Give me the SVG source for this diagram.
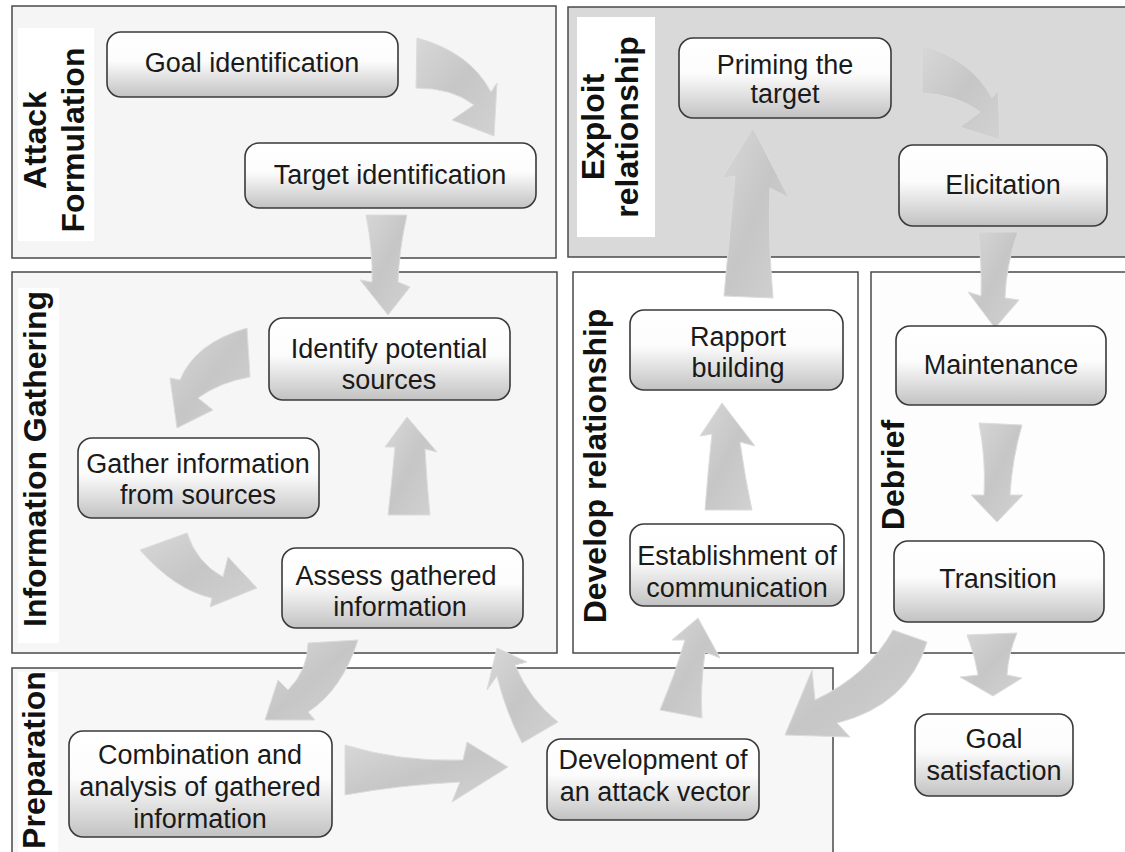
<svg xmlns="http://www.w3.org/2000/svg" width="1125" height="852" viewBox="0 0 1125 852">
<defs>
<linearGradient id="ng" x1="0" y1="0" x2="0" y2="1">
<stop offset="0" stop-color="#ffffff"/>
<stop offset="0.45" stop-color="#fcfcfc"/>
<stop offset="1" stop-color="#c2c2c2"/>
</linearGradient>
<linearGradient id="ag" x1="0" y1="0" x2="1" y2="1">
<stop offset="0" stop-color="#d8d8d8"/>
<stop offset="0.5" stop-color="#c6c6c6"/>
<stop offset="1" stop-color="#d2d2d2"/>
</linearGradient>
</defs>
<style>
.panel{stroke:#4a4a4a;stroke-width:1.5}
.lbg{fill:#ffffff}
.lbl{font-family:"Liberation Sans",Arial,sans-serif;font-weight:bold;font-size:32px;fill:#111;text-anchor:middle}
.node rect{fill:url(#ng);stroke:#3a3a3a;stroke-width:1.6}
.node text{font-family:"Liberation Sans",Arial,sans-serif;font-size:27px;fill:#1a1a1a;text-anchor:middle}
.arr path{fill:url(#ag);stroke:#dcdcdc;stroke-width:1;stroke-linejoin:round}
</style>
<rect width="1125" height="852" fill="#ffffff"/>
<g id="panels">
<rect id="p-attack" class="panel" x="12" y="6" width="544" height="252" fill="#f5f5f5"/>
<rect id="p-exploit" class="panel" x="568" y="7" width="570" height="250" fill="#d9d9d9"/>
<rect id="p-info" class="panel" x="12" y="272" width="545" height="381" fill="#f6f6f6"/>
<rect id="p-develop" class="panel" x="573" y="272" width="285" height="381" fill="#ffffff"/>
<rect id="p-debrief" class="panel" x="871" y="272" width="270" height="381" fill="#fdfdfd"/>
<rect id="p-prep" class="panel" x="12" y="668" width="821" height="200" fill="#f7f7f7"/>
</g>
<g id="labels">
<rect class="lbg" x="18" y="28" width="76" height="213"/>
<text class="lbl" transform="translate(46,140) rotate(-90)">Attack</text>
<text class="lbl" transform="translate(84,140) rotate(-90)">Formulation</text>
<rect class="lbg" x="577" y="17" width="78" height="220"/>
<text class="lbl" transform="translate(604,127) rotate(-90)">Exploit</text>
<text class="lbl" transform="translate(638,127) rotate(-90)">relationship</text>
<rect class="lbg" x="18" y="288" width="41" height="355"/>
<text class="lbl" transform="translate(46,459) rotate(-90)">Information Gathering</text>
<text class="lbl" transform="translate(606,466) rotate(-90)">Develop relationship</text>
<text class="lbl" transform="translate(904,475) rotate(-90)">Debrief</text>
<rect class="lbg" x="18" y="672" width="40" height="180"/>
<text class="lbl" transform="translate(45,760) rotate(-90)">Preparation</text>
</g>
<g id="connectors" class="arr">
<path d="M417,38 Q470,52 491,92 L497,83 L494,136 L452,120 L474,105 Q452,88 416,88 Z"/>
<path d="M366,215 L407,215 Q399,250 398,282 L410,287 L388,315 L360,280 L372,282 Q373,250 366,215 Z"/>
<path d="M247,328 Q195,343 180,380 L170,378 L177,428 L213,410 L198,398 Q220,382 250,377 Z"/>
<path d="M187,533 Q197,563 223,577 L228,557 L257,588 L210,607 L212,598 Q175,590 140,550 Z"/>
<path d="M388,515 Q392,480 395,447 L385,447 L407,417 L437,452 L425,449 Q427,485 430,515 Z"/>
<path d="M308,643 Q308,670 288,690 L278,680 L265,720 L315,720 L308,712 Q342,690 358,640 Z"/>
<path d="M345,745 Q400,762 463,760 L467,742 L508,767 L452,802 L460,782 Q400,785 345,795 Z"/>
<path d="M522,743 Q505,710 497,676 L487,690 L497,648 L527,662 L515,665 Q530,700 558,722 Z"/>
<path d="M660,710 Q675,675 685,640 L672,640 L698,618 L720,658 L705,652 Q700,690 702,718 Z"/>
<path d="M705,510 Q708,470 712,434 L700,436 L722,403 L755,446 L740,442 Q745,478 752,510 Z"/>
<path d="M724,296 Q730,230 735,176 L722,178 L753,128 L789,198 L770,188 Q768,240 773,298 Z"/>
<path d="M922,45 Q972,60 992,98 L998,90 L1000,140 L960,127 L980,112 Q958,95 922,93 Z"/>
<path d="M978,232 L1018,232 Q1006,265 1005,298 L1019,300 L995,328 L968,292 L981,296 Q982,262 978,232 Z"/>
<path d="M979,423 L1022,425 Q1012,460 1010,495 L1023,495 L997,522 L971,495 L984,495 Q986,458 979,423 Z"/>
<path d="M893,630 L927,642 Q908,705 837,723 L850,737 L785,735 L812,670 L815,700 Q868,675 893,630 Z"/>
<path d="M967,635 L1017,633 Q1008,655 1007,675 L1022,678 L993,696 L960,677 L978,675 Q975,655 967,635 Z"/>
</g>
<g id="n-goal" class="node"><rect x="107" y="32" width="291" height="65" rx="14"/><text x="252" y="72">Goal identification</text></g>
<g id="n-target" class="node"><rect x="245" y="143" width="291" height="65" rx="14"/><text x="390" y="184">Target identification</text></g>
<g id="n-priming" class="node"><rect x="679" y="38" width="212" height="80" rx="14"/><text x="785" y="74">Priming the</text><text x="785" y="103">target</text></g>
<g id="n-elicit" class="node"><rect x="899" y="145" width="208" height="81" rx="14"/><text x="1003" y="194">Elicitation</text></g>
<g id="n-identify" class="node"><rect x="269" y="318" width="241" height="82" rx="14"/><text x="389" y="358">Identify potential</text><text x="389" y="389">sources</text></g>
<g id="n-gather" class="node"><rect x="78" y="438" width="241" height="80" rx="14"/><text x="198" y="473">Gather information</text><text x="198" y="504">from sources</text></g>
<g id="n-assess" class="node"><rect x="282" y="548" width="241" height="80" rx="14"/><text x="396" y="585">Assess gathered</text><text x="400" y="616">information</text></g>
<g id="n-rapport" class="node"><rect x="630" y="310" width="213" height="80" rx="14"/><text x="738" y="346">Rapport</text><text x="738" y="377">building</text></g>
<g id="n-establish" class="node"><rect x="630" y="524" width="214" height="82" rx="14"/><text x="737" y="565">Establishment of</text><text x="737" y="597">communication</text></g>
<g id="n-maint" class="node"><rect x="896" y="326" width="210" height="79" rx="14"/><text x="1001" y="374">Maintenance</text></g>
<g id="n-trans" class="node"><rect x="894" y="541" width="210" height="81" rx="14"/><text x="998" y="588">Transition</text></g>
<g id="n-combo" class="node"><rect x="69" y="731" width="263" height="106" rx="14"/><text x="200" y="764">Combination and</text><text x="200" y="796">analysis of gathered</text><text x="200" y="828">information</text></g>
<g id="n-develop" class="node"><rect x="547" y="739" width="212" height="81" rx="14"/><text x="653" y="769">Development of</text><text x="655" y="801">an attack vector</text></g>
<g id="n-goalsat" class="node"><rect x="915" y="714" width="158" height="82" rx="14"/><text x="994" y="748">Goal</text><text x="994" y="780">satisfaction</text></g>
</svg>
